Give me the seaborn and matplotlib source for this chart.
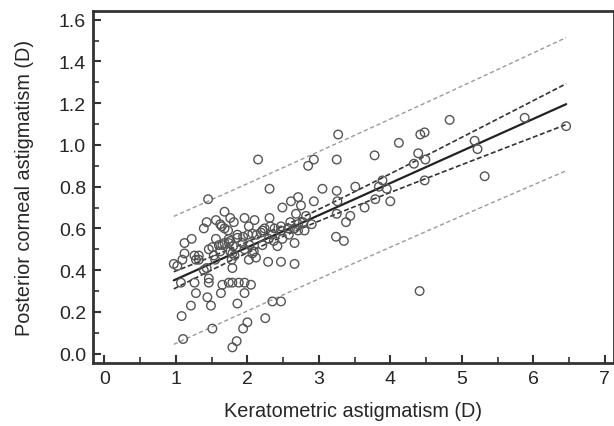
import numpy as np
import pandas as pd
import matplotlib
matplotlib.use("Agg")
import matplotlib.pyplot as plt
import seaborn as sns
from matplotlib.ticker import MultipleLocator

# values
kerato = [2.15, 1.45, 2.31, 2.85, 2.93, 3.25, 3.05, 2.61, 2.71, 2.49, 2.75, 2.93, 3.25, 3.26, 3.51,
          3.78, 4.12, 4.39, 4.33, 4.49, 4.48, 5.22, 5.32, 3.79, 3.89, 3.84, 3.95, 4.00, 3.64, 3.25,
          3.44, 3.38, 3.24, 3.35,
          1.68, 1.76, 1.81, 1.56, 1.43, 1.62, 1.39, 1.68, 1.96, 2.10, 2.02, 2.31, 2.32, 2.47, 2.60,
          2.71, 2.68, 2.82, 2.80, 2.71, 1.22, 1.12, 1.56, 1.68, 1.51, 1.76, 1.86, 1.94, 2.19, 2.13,
          2.35, 2.47, 2.37, 2.66, 1.12, 1.32, 0.97, 1.02, 1.09, 1.28, 1.53, 1.79, 1.79, 2.02, 2.12,
          2.29, 2.47, 2.66, 1.43, 1.39, 2.09,
          1.07, 1.26, 1.46, 1.46, 1.65, 1.74, 1.79, 1.88, 1.96, 2.05, 1.28, 1.63, 1.96, 1.44, 1.21,
          1.49, 1.86, 1.08, 1.51, 1.10, 2.25, 2.00, 1.94, 1.85, 1.79, 2.35, 2.47, 4.41,
          3.27, 4.42, 4.48, 4.83, 5.18, 5.88, 6.46,
          2.24, 2.57, 2.66, 2.78, 2.01, 1.60, 1.62, 1.46, 1.76, 1.32,
          1.26, 1.55, 1.65, 1.74, 1.80, 1.82, 1.78, 1.93, 1.96, 2.03, 2.07, 2.21, 2.30, 2.42, 2.21,
          2.07, 1.86, 1.74, 2.58, 2.49, 2.90, 2.38, 1.64, 1.73]
posterior = [0.93, 0.74, 0.79, 0.90, 0.93, 0.93, 0.79, 0.73, 0.75, 0.70, 0.71, 0.73, 0.78, 0.73, 0.80,
             0.95, 1.01, 0.96, 0.91, 0.93, 0.83, 0.98, 0.85, 0.74, 0.83, 0.80, 0.79, 0.73, 0.70, 0.67,
             0.66, 0.63, 0.56, 0.54,
             0.68, 0.65, 0.63, 0.64, 0.63, 0.62, 0.60, 0.60, 0.65, 0.64, 0.61, 0.65, 0.61, 0.61, 0.63,
             0.62, 0.67, 0.66, 0.59, 0.59, 0.55, 0.53, 0.55, 0.53, 0.51, 0.54, 0.57, 0.56, 0.58, 0.57,
             0.57, 0.59, 0.54, 0.53, 0.48, 0.47, 0.43, 0.42, 0.45, 0.45, 0.47, 0.48, 0.41, 0.45, 0.46,
             0.44, 0.44, 0.43, 0.41, 0.40, 0.49,
             0.34, 0.34, 0.36, 0.34, 0.33, 0.34, 0.34, 0.34, 0.34, 0.33, 0.29, 0.29, 0.29, 0.27, 0.23,
             0.23, 0.24, 0.18, 0.12, 0.07, 0.17, 0.15, 0.12, 0.06, 0.03, 0.25, 0.25, 0.30,
             1.05, 1.05, 1.06, 1.12, 1.02, 1.13, 1.09,
             0.60, 0.60, 0.60, 0.63, 0.57, 0.52, 0.49, 0.50, 0.49, 0.45,
             0.47, 0.45, 0.52, 0.53, 0.515, 0.47, 0.45, 0.53, 0.50, 0.52, 0.48, 0.52, 0.55, 0.515, 0.59,
             0.575, 0.555, 0.55, 0.57, 0.55, 0.62, 0.60, 0.61, 0.59]

df = pd.DataFrame({"kerato": kerato, "posterior": posterior})

# linear fit with 95% confidence and prediction bands
x = df["kerato"].values
y = df["posterior"].values
n = len(x)
slope, icpt = np.polyfit(x, y, 1)
s = np.sqrt(np.sum((y - (icpt + slope * x)) ** 2) / (n - 2))
sxx = np.sum((x - x.mean()) ** 2)
xs = np.linspace(x.min(), x.max(), 50)
fit = icpt + slope * xs
se_ci = s * np.sqrt(1 / n + (xs - x.mean()) ** 2 / sxx)
se_pi = s * np.sqrt(1 + 1 / n + (xs - x.mean()) ** 2 / sxx)
t = 1.976

sns.set_style("ticks")
plt.rcParams["font.family"] = ["Liberation Sans", "DejaVu Sans"]

fig = plt.figure(figsize=(6.14, 4.27), dpi=100)
ax = fig.add_axes([0.1515, 0.1475, 0.8485, 0.8245])

sns.lineplot(x=xs, y=fit + t * se_pi, ax=ax, color="#9a9a9a", lw=1.0, linestyle=(0, (3, 2)))
sns.lineplot(x=xs, y=fit - t * se_pi, ax=ax, color="#9a9a9a", lw=1.0, linestyle=(0, (3, 2)))
sns.lineplot(x=xs, y=fit + t * se_ci, ax=ax, color="#333333", lw=1.2, linestyle=(0, (3, 1.5)))
sns.lineplot(x=xs, y=fit - t * se_ci, ax=ax, color="#333333", lw=1.2, linestyle=(0, (3, 1.5)))
sns.lineplot(x=xs, y=fit, ax=ax, color="#222222", lw=1.6)
sns.scatterplot(data=df, x="kerato", y="posterior", ax=ax, marker="o", s=38,
                facecolors="none", edgecolor="#555555", linewidth=1.0, zorder=3)

ax.set_xlim(-0.16, 7.13)
ax.set_ylim(-0.045, 1.642)
ax.xaxis.set_major_locator(MultipleLocator(1))
ax.xaxis.set_minor_locator(MultipleLocator(0.5))
ax.yaxis.set_major_locator(MultipleLocator(0.2))
ax.yaxis.set_minor_locator(MultipleLocator(0.1))
ax.yaxis.set_major_formatter(plt.FuncFormatter(lambda v, p: f"{v:.1f}"))
ax.tick_params(which="major", direction="in", length=6, width=1.5, labelsize=14,
               color="#333333", pad=5)
ax.tick_params(which="minor", direction="in", length=4, width=1.2, color="#333333")
for sp in ax.spines.values():
    sp.set_linewidth(2)
    sp.set_color("#333333")
ax.set_xlabel("Keratometric astigmatism (D)", fontsize=14.3, labelpad=10)
ax.set_ylabel("Posterior corneal astigmatism (D)", fontsize=14.3, labelpad=18)

fig.savefig("out.png", dpi=100)
